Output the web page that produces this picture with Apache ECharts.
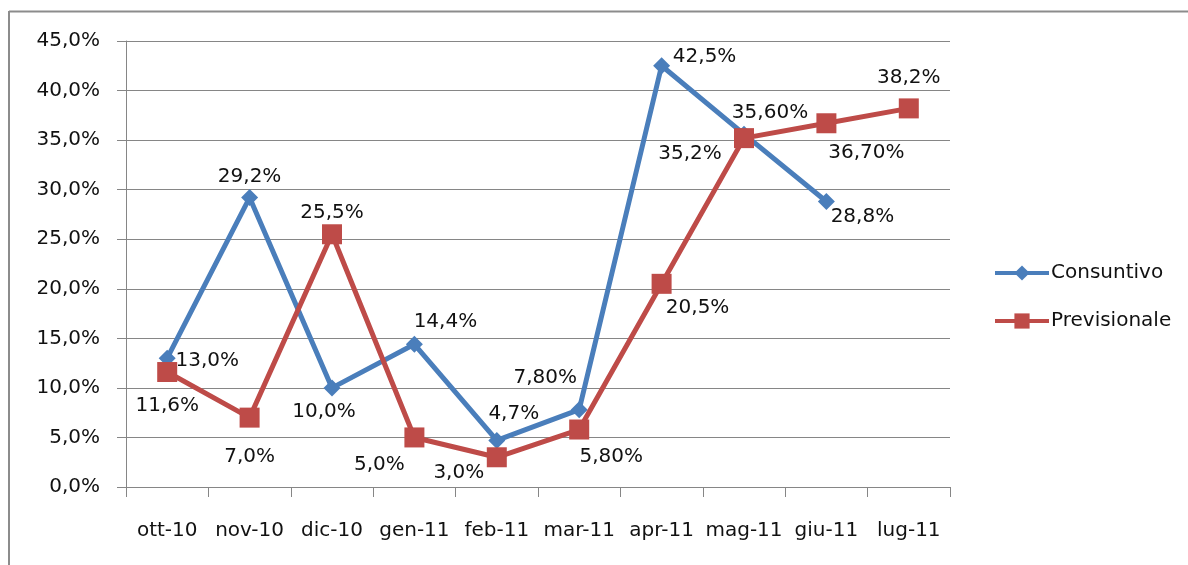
<!DOCTYPE html>
<html>
<head>
<meta charset="utf-8">
<script src="https://cdn.jsdelivr.net/npm/echarts@6/dist/echarts.min.js"></script>
<style>
html,body{margin:0;padding:0;background:#fff;}
#chart{width:1188px;height:565px;}
</style>
</head>
<body>
<div id="chart"></div>
<script>
// ---- data ----
const categories = ['ott-10','nov-10','dic-10','gen-11','feb-11','mar-11','apr-11','mag-11','giu-11','lug-11'];
const consuntivo = [13.0, 29.2, 10.0, 14.4, 4.7, 7.8, 42.5, 35.6, 28.8, null];
const previsionale = [11.6, 7.0, 25.5, 5.0, 3.0, 5.8, 20.5, 35.2, 36.7, 38.2];
const consuntivoLabels = ['13,0%','29,2%','10,0%','14,4%','4,7%','7,80%','42,5%','35,60%','28,8%',''];
const previsionaleLabels = ['11,6%','7,0%','25,5%','5,0%','3,0%','5,80%','20,5%','35,2%','36,70%','38,2%'];
const yTicks = [0,5,10,15,20,25,30,35,40,45];

// ---- layout (label offsets from marker centre, px) ----
const blueOffsets = [[40,3],[0,-21],[-8,24],[31,-22],[17,-27],[-34,-32],[43,-9],[26,-21],[36,15],[0,0]];
const redOffsets = [[0,34],[0,39],[0,-21],[-35,27],[-38,16],[32,27],[36,24],[-54,16],[40,30],[0,-31]];

const FONT = 'DejaVu Sans';
const TXT = '#111';
const BLUE = '#4A7EBB';
const RED = '#BE4B48';

function mkData(vals, labels, offs){
  return vals.map((v,i)=>({
    value: v,
    label: { show: v!==null && labels[i]!=='', formatter: labels[i], offset: offs[i] }
  }));
}

const chart = echarts.init(document.getElementById('chart'));
chart.setOption({
  animation:false,
  backgroundColor:'#fff',
  grid:{left:126, right:238, top:41, bottom:78, containLabel:false},
  legend:{
    orient:'vertical', left:988, top:258,
    itemWidth:54, itemHeight:19, itemGap:28,
    lineStyle:{width:4},
    textStyle:{fontFamily:FONT, fontSize:20, color:TXT, padding:[0,0,0,-3]},
    data:['Consuntivo','Previsionale']
  },
  xAxis:{
    type:'category', data:categories, boundaryGap:true,
    axisLine:{lineStyle:{color:'#868686', width:1}},
    axisTick:{show:true, interval:0, length:10, lineStyle:{color:'#868686'}},
    axisLabel:{interval:0, margin:34, fontFamily:FONT, fontSize:20, color:TXT},
    splitLine:{show:false}
  },
  yAxis:{
    type:'value', min:0, max:45, interval:5,
    axisLine:{show:true, lineStyle:{color:'#868686', width:1}},
    axisTick:{show:true, length:9, lineStyle:{color:'#868686'}},
    axisLabel:{margin:26, fontFamily:FONT, fontSize:20, color:TXT,
      formatter:v=>v.toFixed(1).replace('.',',')+'%'},
    splitLine:{show:true, lineStyle:{color:'#868686', width:1}}
  },
  series:[
    {
      name:'Consuntivo', type:'line', data:mkData(consuntivo, consuntivoLabels, blueOffsets),
      symbol:'diamond', symbolSize:17, connectNulls:false,
      lineStyle:{color:BLUE, width:5}, itemStyle:{color:BLUE},
      label:{position:'inside', fontFamily:FONT, fontSize:20, color:TXT},
      z:3
    },
    {
      name:'Previsionale', type:'line', data:mkData(previsionale, previsionaleLabels, redOffsets),
      symbol:'rect', symbolSize:20,
      lineStyle:{color:RED, width:5}, itemStyle:{color:RED},
      label:{position:'inside', fontFamily:FONT, fontSize:20, color:TXT},
      z:4
    }
  ],
  graphic:[
    {type:'line', shape:{x1:9, y1:11.5, x2:1188, y2:11.5}, style:{stroke:'#8c8c8c', lineWidth:2}},
    {type:'line', shape:{x1:9, y1:11, x2:9, y2:565}, style:{stroke:'#8c8c8c', lineWidth:2}}
  ]
});
</script>
</body>
</html>
